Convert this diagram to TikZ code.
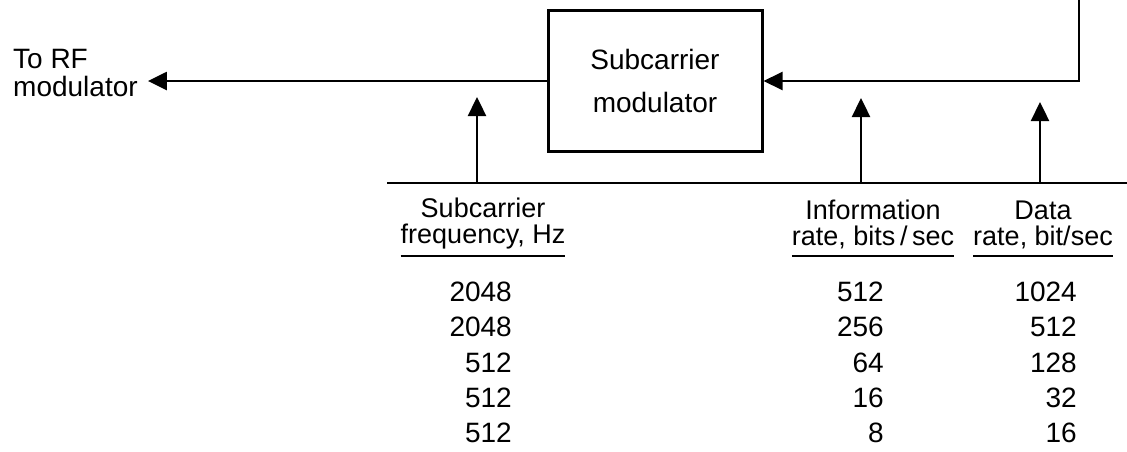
\documentclass[tikz,border=0pt]{standalone}
\usepackage{fontspec}
\setmainfont{Liberation Sans}
\usetikzlibrary{arrows.meta}

\tikzset{
  lbl/.style={font=\fontsize{28}{28}\selectfont, inner sep=0pt},
  arr/.style={line width=2.4pt, -{Triangle[length=19pt,width=18pt]}},
  hdr/.style={font=\fontsize{27}{26}\selectfont, align=center, inner xsep=0pt, inner ysep=7pt, anchor=south},
  num/.style={lbl, anchor=east},
}

\begin{document}
\begin{tikzpicture}[x=1pt,y=-1pt]
    \useasboundingbox (0,0) rectangle (1127,451);

    % Modulador
    \node[draw, line width=3pt, minimum width=214pt, minimum height=141pt, align=center,
          font=\fontsize{28}{43}\selectfont] (mod) at (655,81) {Subcarrier\\modulator};
    \node[lbl, align=left, anchor=west, inner xsep=10pt] (rf) at (3,73) {To RF\\modulator};
    \draw[arr] (mod.west) -- (mod.west -| rf.east);

    % Realimentacao
    \coordinate (fbtop) at (1079,0);
    \draw[arr, line width=2pt] (fbtop) |- (mod.east);

    % Linha de base
    \coordinate (bl) at (387,183);
    \coordinate (br) at (1127,183);
    \draw[line width=2.8pt] (bl) -- (br);
    \foreach \x/\t/\n in {477/97/fs, 861/98/ir, 1040/102/dr} {
        \coordinate (\n base) at (\x,183);
        \coordinate (\n tip) at (\x,\t);
        \draw[arr] (\n base) -- (\n tip);
    }

    % Cabecalhos
    \node[hdr] (fsh) at (483,256) {Subcarrier\\frequency, Hz};
    \node[hdr] (irh) at (873,256) {Information\\rate, bits\,/\,sec};
    \node[hdr] (drh) at (1043,256) {Data\\rate, bit/sec};
    \foreach \h in {fsh, irh, drh}
        \draw[line width=2pt] (\h.south west) -- (\h.south east);

    % Tabela
    \foreach \a/\b/\c [count=\i] in {2048/512/1024, 2048/256/512, 512/64/128, 512/16/32, 512/8/16} {
        \node[num] (fs\i) at (512,256.7+35.3*\i) {\a};
        \node[num] (ir\i) at (884,256.7+35.3*\i) {\b};
        \node[num] (dr\i) at (1077,256.7+35.3*\i) {\c};
    }
\end{tikzpicture}
\end{document}
